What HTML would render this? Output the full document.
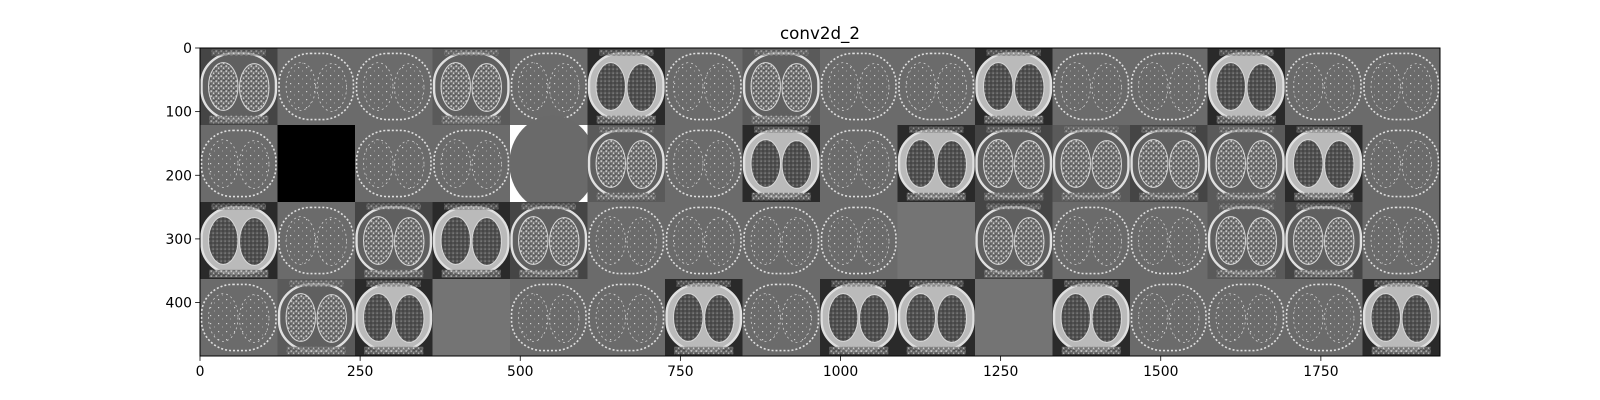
<!DOCTYPE html>
<html><head><meta charset="utf-8"><style>
html,body{margin:0;padding:0;background:#fff;}
svg{display:block;font-family:"DejaVu Sans","Liberation Sans",sans-serif;}
</style></head><body>
<svg id="chart" width="1600" height="400" viewBox="0 0 1600 400" xmlns="http://www.w3.org/2000/svg">
<defs>
<pattern id="spk" width="5" height="5" patternUnits="userSpaceOnUse">
<rect width="5" height="5" fill="#777"/><rect x="0.5" y="0.5" width="1.5" height="1.2" fill="#e6e6e6"/><rect x="3" y="2.5" width="1.2" height="1.5" fill="#cfcfcf"/><rect x="3.5" y="0" width="1" height="1" fill="#333"/><rect x="0" y="3.5" width="1.5" height="1" fill="#444"/>
</pattern>
<pattern id="spkd" width="4" height="4" patternUnits="userSpaceOnUse">
<rect width="4" height="4" fill="#505050"/><rect x="0.5" y="0.5" width="1.2" height="1.2" fill="#999"/><rect x="2.5" y="2.5" width="1" height="1" fill="#2a2a2a"/>
</pattern>
<pattern id="faint" width="8" height="8" patternUnits="userSpaceOnUse">
<rect width="8" height="8" fill="#6b6b6b"/><rect x="2" y="3" width="1.2" height="1.2" fill="#cfcfcf"/><rect x="6" y="6.5" width="1" height="1" fill="#aaa"/>
</pattern>
</defs>
<g id="tiles"></g>
<rect x="200" y="48" width="1240" height="308" fill="none" stroke="#000" stroke-width="1"/>
<text x="820" y="39" text-anchor="middle" font-size="16.7">conv2d_2</text>
<g id="xticks"></g><g id="yticks"></g>
</svg>
<script>
// tile types per row: e=edge, t=textured, b=bright, f=flat, k=black, w=white-corner
const row1 = ['t','e','e','t','e','b','e','t','e','e','b','e','e','b','e','e'];
const row2 = ['e','k','e','e','w','t','e','b','e','b','t','t','t','t','b','e'];
const row3 = ['b','e','t','b','t','e','e','e','e','f','t','e','e','t','t','e'];
const row4 = ['e','t','b','f','e','e','b','e','b','b','f','b','e','e','e','b'];
const rows = [row1,row2,row3,row4];
const xTicks = [0,250,500,750,1000,1250,1500,1750];
const yTicks = [0,100,200,300,400];
const tileSize = 121;
const X0=200,X1=1440,Y0=48,Y1=356, XMAX=1936, YMAX=484;
const sx = v => X0 + v*(X1-X0)/XMAX;
const sy = v => Y0 + v*(Y1-Y0)/YMAX;
const NS='http://www.w3.org/2000/svg';
function mk(tag, attrs, parent){const e=document.createElementNS(NS,tag);for(const k in attrs)e.setAttribute(k,attrs[k]);parent.appendChild(e);return e;}
const tg=document.getElementById('tiles');
rows.forEach((row,r)=>{row.forEach((t,c)=>{
  const x=sx(c*tileSize), y=sy(r*tileSize), w=sx((c+1)*tileSize)-x, h=sy((r+1)*tileSize)-y;
  const g=mk('g',{},tg);
  
  
  const cx=x+w/2, cy=y+h/2, rw=w*0.96, rh=h*0.86;
  let bg='#6b6b6b';
  if(t==='b') bg='#2a2a2a'; if(t==='t') bg=(c%2?'#5a5a5a':'#454545'); if(t==='k') bg='#000'; if(t==='f') bg='#747474'; if(t==='w') bg='#ffffff';
  mk('rect',{x:x,y:y,width:w+0.5,height:h+0.5,fill:bg},g);
  if(t==='k'||t==='f') return;
  if(t==='w'){mk('ellipse',{cx:cx+4,cy:cy,rx:w*0.56,ry:h*0.62,fill:'#6a6a6a'},g);return;}
  let body = t==='b'?'#bababa':(t==='t'?'#606060':'#6b6b6b');
  mk('rect',{x:cx-rw/2,y:cy-rh/2,width:rw,height:rh,rx:rw*0.42,ry:rh*0.45,fill:body,stroke:'#e0e0e0','stroke-width':t==='e'?1.6:2.4,'stroke-dasharray':t==='e'?'2 2':'none'},g);
  const lf = t==='b'?'url(#spkd)':(t==='t'?'url(#spk)':'url(#faint)');
  const lst = t==='e'?'#cfcfcf':'#d8d8d8';
  mk('ellipse',{cx:cx-w*0.2,cy:cy,rx:w*0.19,ry:h*0.31,fill:lf,stroke:lst,'stroke-width':t==='e'?0.8:1,'stroke-dasharray':t==='e'?'2 3':'none'},g);
  mk('ellipse',{cx:cx+w*0.2,cy:cy+1,rx:w*0.19,ry:h*0.31,fill:lf,stroke:lst,'stroke-width':t==='e'?0.8:1,'stroke-dasharray':t==='e'?'2 3':'none'},g);
  if(t!=='e'){mk('rect',{x:x+w*0.12,y:y+h*0.88,width:w*0.76,height:h*0.1,fill:'url(#spk)',opacity:0.8},g);
              mk('rect',{x:x+w*0.15,y:y+h*0.02,width:w*0.7,height:h*0.08,fill:'url(#spk)',opacity:0.6},g);}
});});
const xg=document.getElementById('xticks');
xTicks.forEach(v=>{
  const l=mk('line',{x1:sx(v),x2:sx(v),y1:Y1,y2:Y1+4.9,stroke:'#000','stroke-width':0.8},xg);
  
  
  const t=mk('text',{x:sx(v),y:Y1+20,'text-anchor':'middle','font-size':13.9},xg);
  
  
  t.textContent=v;
});
const yg=document.getElementById('yticks');
yTicks.forEach(v=>{
  const l=mk('line',{x1:X0-4.9,x2:X0,y1:sy(v),y2:sy(v),stroke:'#000','stroke-width':0.8},yg);
  
  
  const t=mk('text',{x:X0-8,y:sy(v)+5,'text-anchor':'end','font-size':13.9},yg);
  
  
  t.textContent=v;
});
</script>
</body></html>
